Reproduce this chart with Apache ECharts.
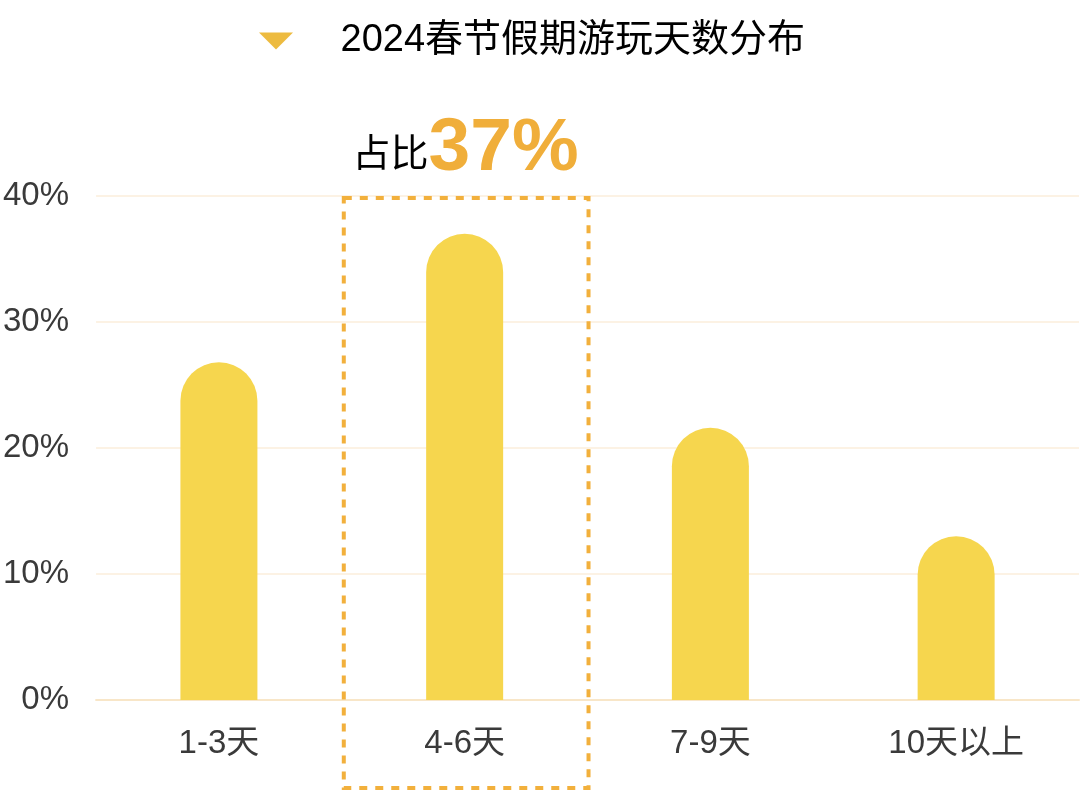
<!DOCTYPE html>
<html>
<head>
<meta charset="utf-8">
<script src="https://cdn.jsdelivr.net/npm/echarts@6/dist/echarts.min.js"></script>
<style>
html,body{margin:0;padding:0;background:#fff;}
#chart{width:1080px;height:792px;}
</style>
</head>
<body>
<div id="chart"></div>
<script>
const seriesName = '2024春节假期游玩天数分布';
const categories = ['1-3天', '4-6天', '7-9天', '10天以上'];
const values = [26.8, 37, 21.6, 13];
const yTicks = [0, 10, 20, 30, 40];
const highlightIndex = 1;
const highlightLabel = '占比';
const highlightValue = '37%';

const FONT = 'Liberation Sans, Arial, "Noto Sans CJK SC", sans-serif';
const chart = echarts.init(document.getElementById('chart'));
const option = {
  backgroundColor: '#fff',
  animation: false,
  legend: {
    top: 17,
    left: 254,
    data: [{name: seriesName, icon: 'path://M0,0 L10,0 L5,5 Z', itemStyle: {color: '#EDBB40'}}],
    itemWidth: 35,
    itemHeight: 17,
    textStyle: {fontSize: 38, color: '#000', fontFamily: FONT, padding: [0, 0, 0, 42]}
  },
  grid: {left: 95, right: 1, top: 196, bottom: 92},
  xAxis: {
    type: 'category',
    data: categories,
    axisLine: {lineStyle: {color: '#F8E6C8', width: 2}},
    axisTick: {show: false},
    axisLabel: {fontSize: 33, color: '#3a3a3a', margin: 27, fontFamily: FONT}
  },
  yAxis: {
    type: 'value',
    min: yTicks[0],
    max: yTicks[yTicks.length - 1],
    interval: 10,
    axisLine: {show: false},
    axisTick: {show: false},
    axisLabel: {fontSize: 33, color: '#3a3a3a', margin: 27, fontFamily: FONT, formatter: '{value}%', padding: [6, 0, 0, 0]},
    splitLine: {lineStyle: {color: '#FBEEDB', width: 1.5}}
  },
  series: [{
    name: seriesName,
    type: 'bar',
    data: values,
    barWidth: 77,
    itemStyle: {color: '#F6D64E', borderRadius: [38.5, 38.5, 0, 0]}
  }]
};
chart.setOption(option);

function addGraphics() {
  const c = chart.convertToPixel({xAxisIndex: 0, yAxisIndex: 0}, [highlightIndex, yTicks[yTicks.length - 1]]);
  const c2 = chart.convertToPixel({xAxisIndex: 0, yAxisIndex: 0}, [highlightIndex + 1, 0]);
  const c0 = chart.convertToPixel({xAxisIndex: 0, yAxisIndex: 0}, [highlightIndex, 0]);
  const band = c2[0] - c0[0];
  const left = c[0] - band / 2 + 2;
  const top = c[1] + 2;
  chart.setOption({
    graphic: [
      {
        type: 'rect',
        shape: {x: left, y: top, width: band - 1, height: 788 - top},
        style: {fill: 'none', stroke: '#F2B03C', lineWidth: 4, lineDash: [8, 8]},
        z: 10
      },
      {
        type: 'text',
        x: c[0] + 1,
        y: top - 49,
        style: {
          text: '{a|' + highlightLabel + '}{b|' + highlightValue + '}',
          align: 'center',
          verticalAlign: 'middle',
          rich: {
            a: {fontSize: 38, fill: '#000', fontFamily: FONT, padding: [14, 0, 0, 0]},
            b: {fontSize: 75, fill: '#F0AE3A', fontWeight: 'bold', fontFamily: FONT}
          }
        },
        z: 10
      }
    ]
  });
}
addGraphics();
</script>
</body>
</html>
